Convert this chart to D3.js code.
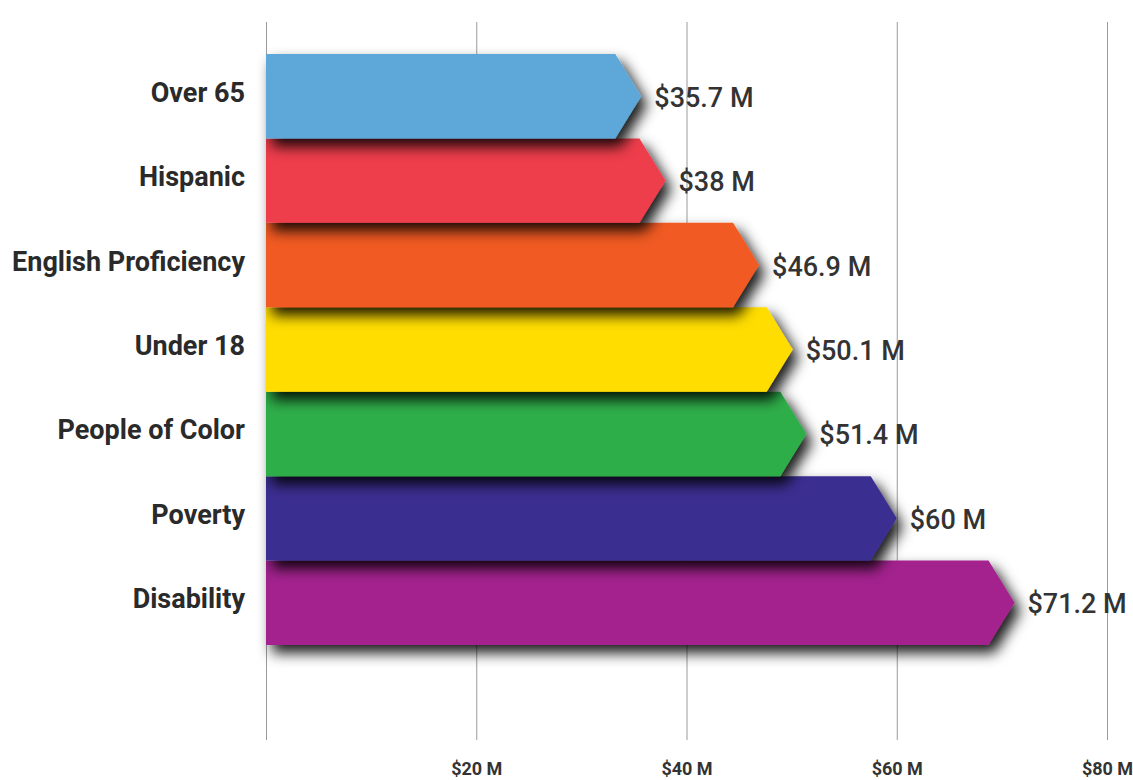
<!DOCTYPE html>
<html>
<head>
<meta charset="utf-8">
<script src="https://cdn.jsdelivr.net/npm/d3@7"></script>
<style>
  body { margin: 0; background: #fff; }
  svg { display: block; font-family: Roboto, "Noto Sans", sans-serif; }
</style>
</head>
<body>
<div id="chart"></div>
<script>
const categories = ['Over 65', 'Hispanic', 'English Proficiency', 'Under 18', 'People of Color', 'Poverty', 'Disability'];
const values = [35.7, 38, 46.9, 50.1, 51.4, 60, 71.2];
const valueLabels = ['$35.7 M', '$38 M', '$46.9 M', '$50.1 M', '$51.4 M', '$60 M', '$71.2 M'];
const colors = ['#5da8d9', '#ee3e4c', '#f15a24', '#ffdd00', '#2fae4a', '#3b2f91', '#a3238e'];
const gridTicks = [0, 20, 40, 60, 80];
const tickLabels = ['', '$20 M', '$40 M', '$60 M', '$80 M'];

const width = 1133, height = 780;
const svg = d3.select('#chart').append('svg')
    .attr('width', width)
    .attr('height', height);

const x = d3.scaleLinear().domain([0, 80]).range([266, 1107]);
const y = d3.scaleBand().domain(categories).range([54, 645]).padding(0);

const defs = svg.append('defs');
const shadow = defs.append('filter')
    .attr('id', 'shadow')
    .attr('x', '-5%').attr('y', '-40%')
    .attr('width', '120%').attr('height', '190%');
shadow.append('feDropShadow')
    .attr('dx', 6).attr('dy', 8)
    .attr('stdDeviation', 7)
    .attr('flood-color', '#000')
    .attr('flood-opacity', 0.9);

// gridlines
svg.append('g')
    .attr('class', 'grid')
    .attr('transform', 'translate(0,740)')
    .call(d3.axisBottom(x).tickValues(gridTicks).tickSize(-718).tickFormat(''))
    .call(g => g.select('.domain').remove())
    .call(g => g.selectAll('line').attr('stroke', '#9a9a9a').attr('stroke-width', 1));

// tick labels
svg.append('g')
    .attr('transform', 'translate(0,759)')
    .call(d3.axisBottom(x).tickValues(gridTicks).tickSize(0)
        .tickFormat((d, i) => tickLabels[i]))
    .call(g => g.select('.domain').remove())
    .call(g => g.selectAll('text')
        .attr('font-family', 'Roboto, sans-serif')
        .attr('font-size', 18)
        .attr('font-weight', 700)
        .attr('fill', '#333'));

const tip = 26;
const arrow = (v, cat) => {
  const x0 = x(0), x1 = x(v), y0 = y(cat), y1 = y0 + y.bandwidth();
  const ym = (y0 + y1) / 2;
  return `M${x0},${y0}H${x1 - tip}L${x1},${ym}L${x1 - tip},${y1}H${x0}Z`;
};

// draw bottom bar first so each bar's shadow falls onto the one below
const idx = d3.range(categories.length).reverse();

svg.append('g')
  .selectAll('path')
  .data(idx)
  .join('path')
    .attr('d', i => arrow(values[i], categories[i]))
    .attr('fill', i => colors[i])
    .attr('filter', 'url(#shadow)');

svg.append('g')
  .selectAll('text')
  .data(idx)
  .join('text')
    .attr('x', i => x(values[i]) + 13)
    .attr('y', i => y(categories[i]) + y.bandwidth() / 2 + 1)
    .attr('dy', '0.35em')
    .attr('font-size', 27)
    .attr('font-weight', 500)
    .attr('fill', '#333')
    .text(i => valueLabels[i]);

svg.append('g')
  .selectAll('text')
  .data(categories)
  .join('text')
    .attr('x', 245)
    .attr('y', d => y(d) + y.bandwidth() / 2 - 4)
    .attr('dy', '0.35em')
    .attr('text-anchor', 'end')
    .attr('font-size', 27)
    .attr('font-weight', 700)
    .attr('fill', '#2a2a2a')
    .text(d => d);
</script>
</body>
</html>
